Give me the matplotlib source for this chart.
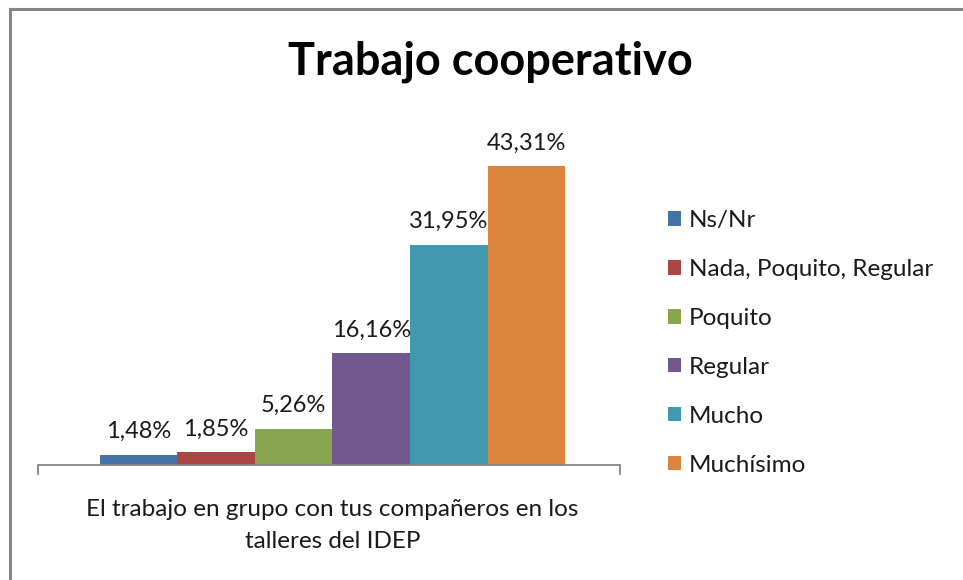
import matplotlib
matplotlib.use("Agg")
import matplotlib.pyplot as plt
from matplotlib.patches import Patch
from matplotlib.lines import Line2D

title = "Trabajo cooperativo"
category = "El trabajo en grupo con tus compañeros en los\ntalleres del IDEP"
series = ["Ns/Nr", "Nada, Poquito, Regular", "Poquito", "Regular", "Mucho", "Muchísimo"]
values = [1.48, 1.85, 5.26, 16.16, 31.95, 43.31]
colors = ["#4572A7", "#AA4643", "#89A54E", "#71588F", "#4198AF", "#DB843D"]

plt.rcParams['font.family'] = ['Lato', 'DejaVu Sans']

fig = plt.figure(figsize=(9.63, 5.80), dpi=100)
W, H = 963, 580
ax = fig.add_axes([38 / W, 1 - 465 / H, 582 / W, 345 / H])

n = len(values)
bw = 0.8 / n
for i, (s, v, c) in enumerate(zip(series, values, colors)):
    x = (i - (n - 1) / 2) * bw + 0.006
    ax.bar(x, v, width=bw, color=c, label=s)
    ax.annotate(f"{v:.2f}".replace(".", ",") + "%", (x, v), xytext=(0, 9),
                textcoords="offset points", ha="center", va="bottom",
                fontsize=17, color="#1a1a1a")

ax.set_xlim(-0.5, 0.5)
ax.set_ylim(0, 50)
for side in ["top", "right", "left"]:
    ax.spines[side].set_visible(False)
ax.spines["bottom"].set_color("#868686")
ax.spines["bottom"].set_linewidth(1.3)
ax.set_yticks([])
ax.set_xticks([-0.5, 0.5])
ax.set_xticklabels(["", ""])
ax.tick_params(axis="x", direction="out", length=7, width=1.3, color="#868686")
ax.text(0.006, -0.10, category, transform=ax.get_xaxis_transform(), ha="center", va="top",
        fontsize=17.5, color="#1a1a1a", linespacing=1.6)

fig.text(490 / W, 1 - 62 / H, title, ha="center", va="center", fontsize=32.5,
         fontweight="bold", color="black")

handles = [Patch(facecolor=c, edgecolor="none") for c in colors]
fig.legend(handles, series, loc="upper left", bbox_to_anchor=(646 / W, 1 - 188 / H),
           frameon=False, fontsize=17.5, handlelength=0.55, handleheight=0.55,
           handletextpad=0.3, labelspacing=1.15, labelcolor="#1a1a1a")

# chart-area border (top and left edges visible)
fig.add_artist(Line2D([10 / W, 1], [1 - 9 / H, 1 - 9 / H], transform=fig.transFigure,
                      color="#868686", linewidth=2.2))
fig.add_artist(Line2D([10 / W, 10 / W], [0, 1 - 9 / H], transform=fig.transFigure,
                      color="#868686", linewidth=2.2))

fig.savefig("out.png", dpi=100)
